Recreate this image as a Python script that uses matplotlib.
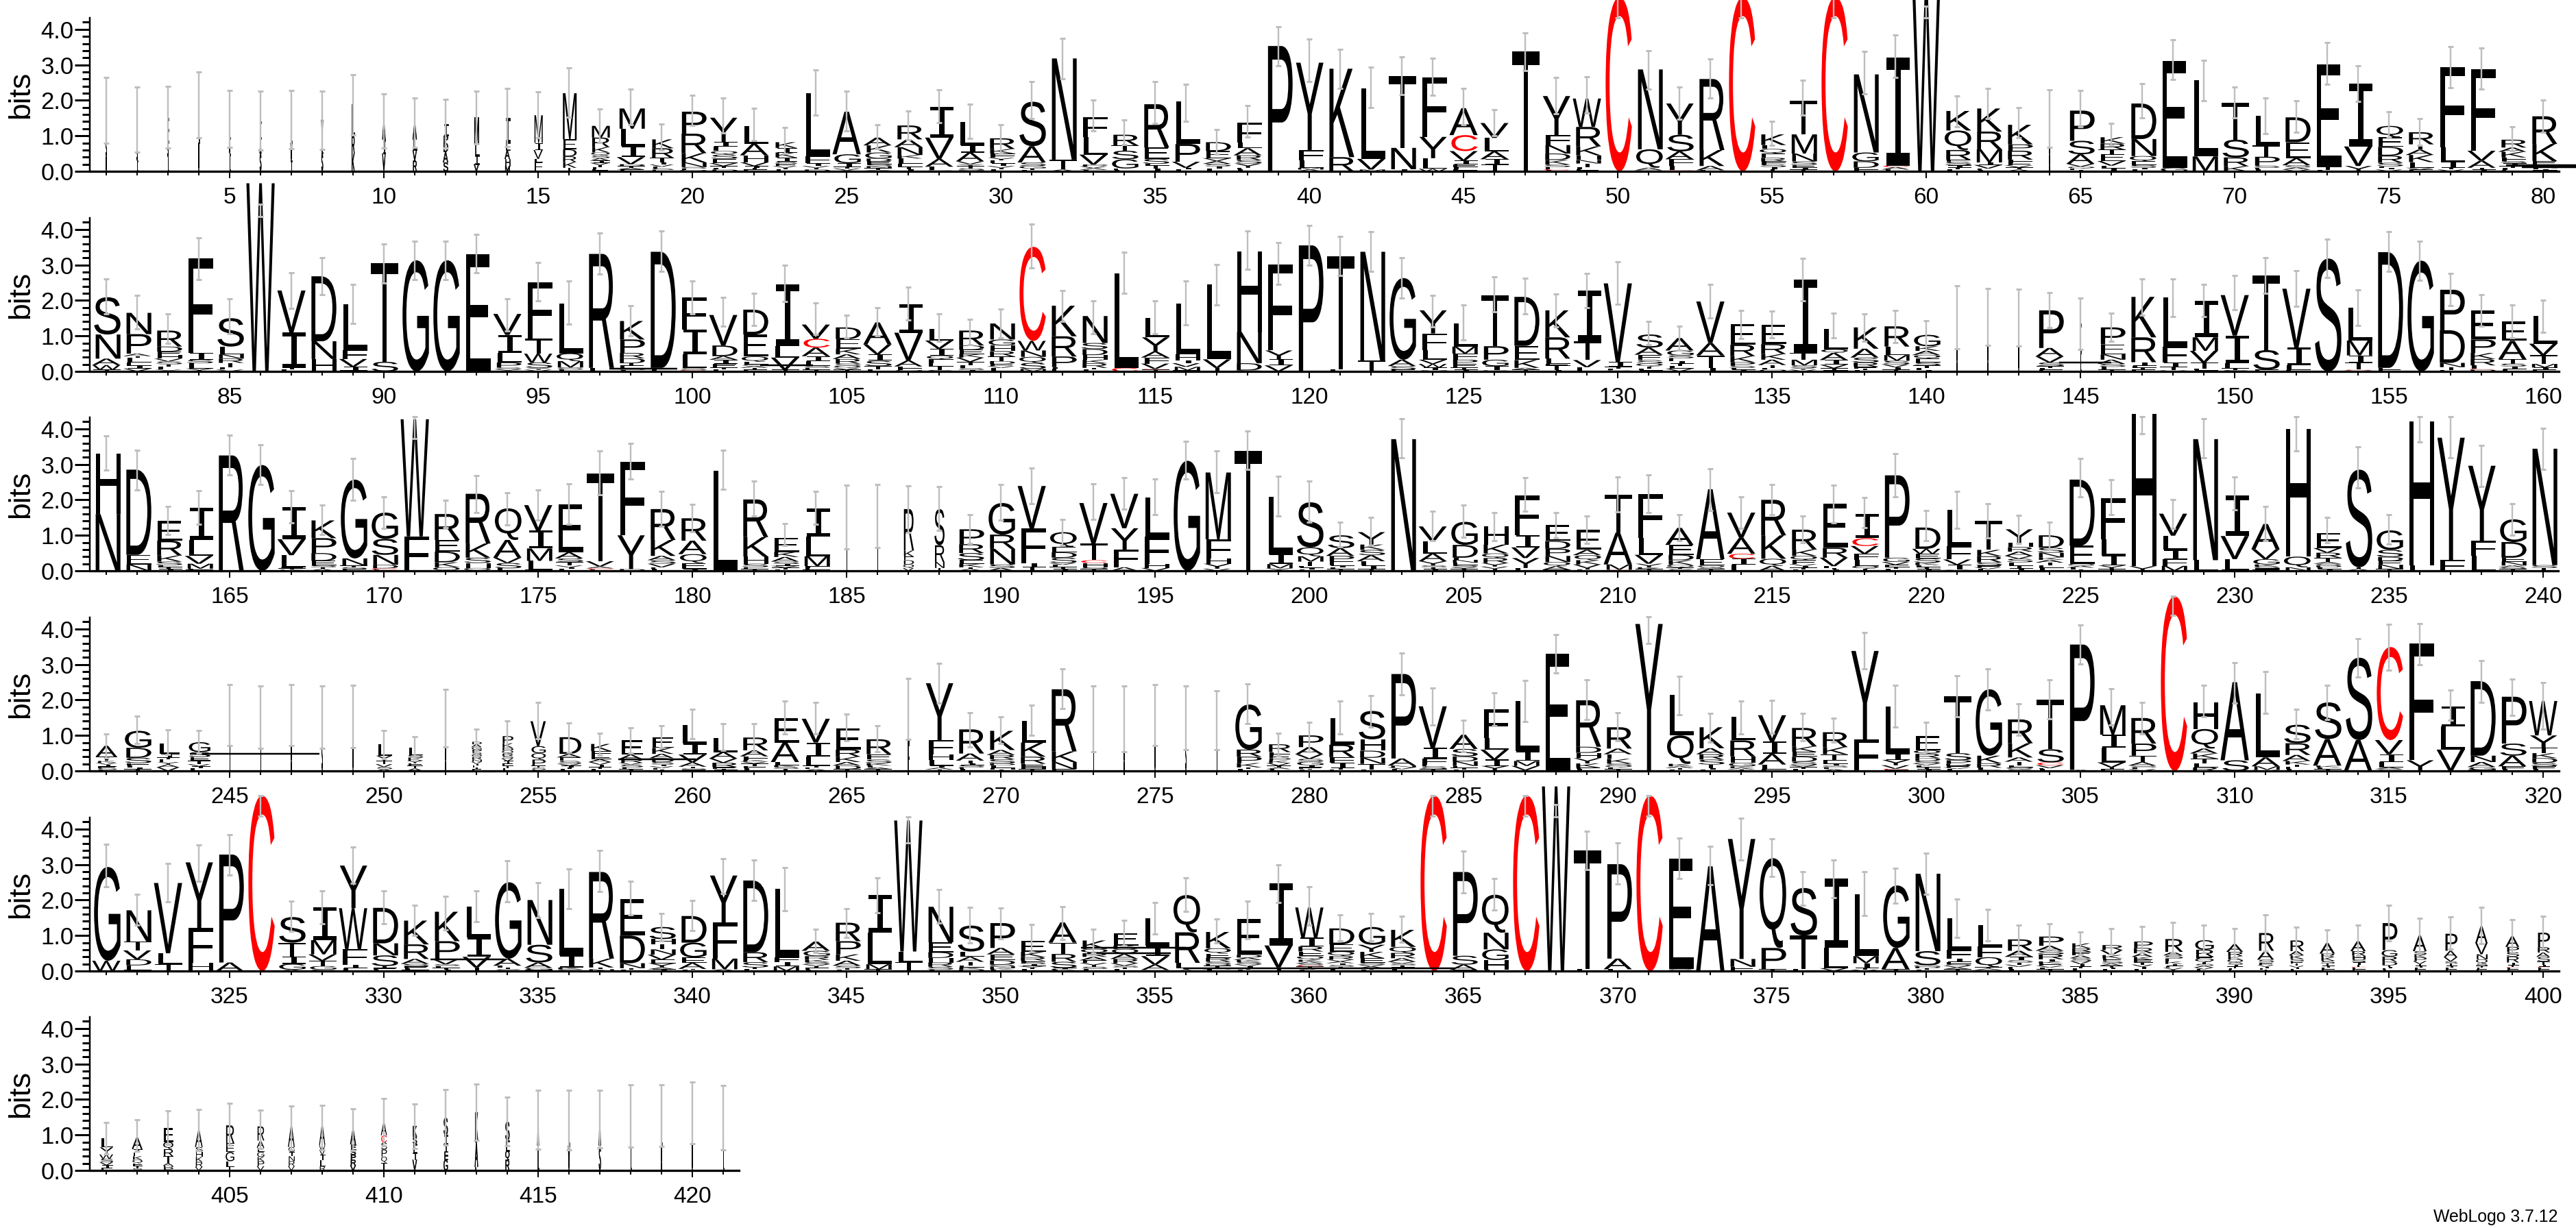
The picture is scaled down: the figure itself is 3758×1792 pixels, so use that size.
import matplotlib
matplotlib.use("Agg")
import matplotlib.pyplot as plt
from matplotlib.font_manager import FontProperties
from matplotlib.patches import PathPatch
from matplotlib.path import Path
from matplotlib.textpath import TextPath
from matplotlib.ticker import MultipleLocator

plt.rcParams['font.family'] = ['Liberation Sans', 'DejaVu Sans']

# letter stacks, bottom to top, letter + height in bits
row1_stacks = ["V.4 S.5 A.85", "I.3 S.4 A.77", "L.4 S.4 E.7", "V.8 L1.0 C.05", "I.5 V.4 L.6", "S.5 A.4 I.5", "T.3 V.5 L.65", "S.5 L.4 V.55", "K.5 R.5 L.9", "V.5 I.4 A.5",
    "R.3 V.3 L.3 A.45", "S.25 A.3 D.25 P.2 I.33", "V.2 I.25 L.3 M.77", "M.15 H.2 A.25 L.2 I.7", "E.25 L.1 V.25 I.2 M.78", "T.1 K.16 R.16 D.2 E.28 M1.3", "E.06 L.06 T.06 V.06 I.06 A.07 S.08 Q.08 K.15 R.27 M.33", "E.05 A.05 T.05 D.05 V.2 I.32 L.48 M.57", "E.04 S.04 L.05 V.06 I.07 T.12 R.27 K.25", "Q.04 E.04 S.04 N.13 K.26 R.55 P.62",
    "D.05 L.05 T.05 V.08 E.12 S.12 Q.1 L.12 I.14 Y.68", "E.05 T.05 I.05 V.1 H.2 A.33 L.5", "L.05 T.05 V.05 E.06 S.06 I.12 K.14 I.13 K.16", "D.05 T.05 V.05 I.08 F.2 L1.78", "A.03 V.05 T.05 I.1 G.25 A1.2", "Y.04 T.05 N.05 S.06 E.08 D.08 G.17 K.2 A.22", "I.06 T.06 E.1 L.14 K.1 N.22 A.22 R.39", "S.03 L.1 A.22 V.6 I.87", "M.03 S.05 T.07 Y.05 V.08 A.25 I.2 L.66", "L.05 T.05 V.05 I.08 E.08 Y.07 F.12 K.13 R.3",
    "L.04 T.04 G.07 S.1 A.46 S1.25", "A.05 T.28 N2.85", "L.04 A.05 V.05 P.05 V.28 L.5 F.55", "L.04 E.04 G.26 S.24 T.15 R.3", "I.08 T.08 L.05 S.14 E.32 R1.22", "L.05 I.05 V.17 P.5 L1.2", "L.07 I.07 S.07 A.08 V.08 E.2 D.25", "L.05 E.05 Y.12 S.1 R.13 A.2 L.17 F.55", "P3.53", "A.05 M.05 L.2 F.3 Y2.46",
    "R.4 K2.49", "M.05 V.3 L1.99", "I.06 N.6 T2.02", "W.07 L.3 Y.6 F1.68", "F.06 L.06 E.08 I.1 V.27 C.45 A.76", "T.2 I.14 A.22 L.38 V.42", "T3.37", "L.03 C.03 E.06 S.07 K.13 D.18 N.24 F.28 Y1.1", "E.06 L.06 T.1 N.1 H.13 K.25 R.55 W.8", "C4.9",
    "S.03 A.07 Q.52 N2.25", "C.03 L.13 F.18 A.22 S.47 Y.88", "L.03 A.12 K.45 R2.0", "C4.9", "T.06 I.06 S.08 F.08 R.1 E.12 Q.13 L.11 K.3", "T.05 I.05 E.08 S.1 N.22 M.54 T.95", "C4.9", "F.1 D.18 G.25 N2.2", "L.05 A.07 C.04 I3.05", "W5.3",
    "L.05 T.05 I.07 S.1 E.05 R.28 Q.55 K.55", "L.04 E.04 V.1 I.07 M.37 R.5 K.65", "A.05 T.06 V.06 E.06 F.1 R.25 P.18 K.55", "A.5 K.5 R.48", "T.04 E.04 Q.05 V.08 A.27 S.38 P.85", "I.08 L.08 V.13 E.2 T.12 R.17 K.18", "L.05 I.05 S.08 E.1 Q.15 N.48 D1.0", "G.1 E3.0", "M.42 L2.15", "K.14 R.25 S.5 T1.04",
    "L.05 E.05 S.06 P.25 T.32 L.84", "V.05 A.06 S.06 A.2 E.45 D.7", "L.04 T.08 E2.9", "Y.15 V.55 I1.77", "V.05 I.05 L.04 S.1 R.2 D.25 E.27 Q.32", "E.05 V.05 L.16 K.2 A.15 T.15 R.34", "V.05 T.05 I.16 L.42 F2.25", "I.05 T.05 A.2 V.28 F2.3", "E.04 L.05 T.06 I.08 S.06 F.1 K.16 A.12 R.22", "F.03 I.03 L.03 N.1 E.1 K.48 R.78"]
row1_hi = [2.65, 2.38, 2.40, 2.79, 2.27, 2.25, 2.27, 2.25, 2.73, 2.19,
    2.06, 2.02, 2.25, 2.33, 2.23, 2.92, 1.75, 2.31, 1.34, 2.15,
    2.06, 1.77, 1.23, 2.85, 2.25, 1.32, 1.69, 2.29, 1.90, 1.32,
    2.52, 3.75, 2.0, 1.44, 2.52, 2.46, 1.17, 1.86, 4.08, 3.73,
    3.44, 2.94, 3.23, 3.19, 2.34, 1.73, 3.90, 2.65, 2.67, 4.9,
    3.40, 2.38, 3.17, 4.9, 1.40, 2.56, 4.9, 3.37, 3.85, 4.66,
    2.13, 2.34, 1.80, 2.29, 2.27, 1.36, 2.48, 3.71, 3.13, 2.38,
    2.07, 1.98, 3.62, 2.98, 1.67, 1.48, 3.52, 3.48, 1.25, 2.0]
row1_lo = [.80, .55, .65, .94, .67, .59, .63, .61, 1.03, .65,
    .67, .65, .78, .69, .94, 1.52, .82, 1.32, .59, 1.30,
    1.08, .86, .51, 1.59, 1.13, .63, .89, 1.38, .92, .51,
    1.48, 2.61, 1.13, .76, 1.36, 1.40, .49, .96, 2.98, 2.52,
    2.34, 1.79, 2.17, 2.15, 1.32, 1.0, 2.83, 1.62, 1.64, 4.33,
    2.31, 1.46, 2.06, 4.33, .73, 1.59, 4.33, 2.19, 2.65, 4.33,
    1.25, 1.48, .94, .67, 1.25, .73, 1.50, 2.58, 1.98, 1.50,
    1.07, 1.11, 2.46, 1.96, .94, .73, 2.36, 2.31, .57, 1.11]

row2_stacks = ["T.05 W.13 A.18 N.68 S1.05", "V.08 I.08 E.1 L.12 T.05 A.07 P.55 N.6", "Y.05 L.08 T.07 S.08 V.08 H.1 E.1 D.14 R.45", "Y.08 L.15 S.1 I.2 F2.65", "V.05 L.07 T.12 R.12 N.12 L.22 S.8", "W5.3", "L.05 T.05 I1.0 V1.18", "H.35 N.5 D1.83", "T.03 I.1 V.22 F.25 L1.3", "S.27 T2.78",
    "G3.13", "G3.13", "E3.31", "Y.06 S.05 P.14 L.28 I.5 V.59", "V.05 Y.05 S.15 W.25 T.42 F1.59", "L.05 S.06 M.18 Q.22 L1.4", "L.1 R3.21", "L.04 S.05 E.08 T.06 D.14 R.15 P.38 K.52", "L.1 D3.27", "C.04 S.05 L.4 I.68 F.92",
    "L.05 T.06 E.1 I.12 A.1 D.3 V.86", "E.05 T.05 A.05 S.05 L.07 Q.15 E.62 D.7", "T.05 V.34 L.32 I1.75", "T.05 E.05 S.05 L.14 I.14 A.24 C.25 V.4", "T.05 V.05 Q.06 S.06 R.13 A.13 K.16 E.27 D.33", "L.05 T.1 S.15 I.18 V.28 A.62", "Q.04 F.1 A.17 V.78 I.8", "S.04 T.1 E.1 F.1 Q.1 I.2 V.23 L.32", "I.04 S.05 L.08 T.1 V.12 K.1 E.12 D.12 R.42", "L.1 V.05 E.06 D.08 T.13 R.15 H.16 G.17 N.45",
    "M.07 S.17 Q.17 N.18 W.27 C2.65", "E.08 L.04 P.3 R.57 K.86", "L.05 T.05 R.13 K.1 H.13 D.17 S.17 N.76", "C.1 L2.67", "T.05 C.02 V.15 F.17 A.17 Y.4 L.55", "T.03 M.1 V.1 I.08 H.17 L1.43", "T.1 V.24 L2.12", "Y.03 D.2 N.88 H2.27", "V.17 I.17 Y.25 F2.43", "P3.55",
    "L.05 T3.2", "T.3 N3.07", "E.05 S.1 A.18 G2.3", "M.03 I.08 W.1 V.12 L.26 F.48 Y.65", "I.05 T.06 E.1 P.12 F.17 M.2 L.66", "D.03 I.12 G.18 P.38 T1.44", "T.05 A.05 K.22 E.4 D1.38", "I.04 T.12 E.05 L.15 R.6 K.76", "L.12 V.2 T.53 I1.43", "S.03 L.05 T.05 I.14 V2.21",
    "I.03 L.05 T.06 Q.08 S.1 E.15 A.2 S.37", "V.08 L.07 T.07 I.07 E.08 S.08 G.14 A.35", "I.1 T.35 A.35 V1.17", "I.05 L.05 S.06 P.1 K.17 R.32 E.58", "Q.05 L.05 T.08 A.15 K.16 R.28 E.55", "V.05 Y.05 S.07 M.16 T.2 I2.06", "F.03 T.06 V.1 I.13 A.2 Q.1 L.57", "L.03 T.05 E.05 R.12 S.14 A.25 K.6", "T.05 I.07 V.08 S.1 M.16 L.24 R.57", "I.04 L.05 T.08 S.09 E.1 Q.1 A.12 K.13 G.32",
    "A.8 L.73", "A.8 S.73", "V.8 I.72", "E.05 L.05 T.05 S.1 V.17 A.24 P1.06", "L.5 I.86", "T.05 L.08 S.08 A.12 N.15 E.28 P.48", "E.05 T.05 L.06 I.1 R.7 K1.14", "V.03 T.1 I.12 F.45 L1.38", "I.03 L.05 T.17 V.33 M.38 I1.03", "S.04 T.05 L.14 I.78 V1.14",
    "E.05 S.55 T2.1", "F.04 L.13 I.5 V1.66", "S3.18", "V.03 C.02 T.2 I.2 M.42 L.93", "E.1 D3.26", "G3.12", "E.04 T.08 N.12 D.92 P1.14", "D.05 C.02 L.1 R.18 K.17 P.38 E.82", "L.06 I.08 S.08 T.12 A.52 E.54", "E.05 I.06 M.1 T.25 V.32 L.78"]
row2_hi = [2.61, 2.14, 1.63, 3.76, 2.04, 4.71, 2.78, 3.21, 2.46, 3.6,
    3.67, 3.67, 3.86, 2.05, 3.06, 2.54, 3.89, 1.85, 3.95, 2.55,
    2.09, 2.2, 2.99, 1.94, 1.59, 1.8, 2.37, 1.63, 1.46, 1.75,
    4.15, 2.28, 1.98, 3.35, 1.98, 2.55, 3.02, 3.95, 3.62, 4.11,
    3.81, 3.94, 3.21, 2.15, 1.87, 2.67, 2.62, 2.19, 2.77, 3.09,
    1.41, 1.28, 2.45, 1.72, 1.7, 3.19, 1.65, 1.63, 1.71, 1.43,
    2.41, 2.33, 2.32, 2.22, 2.07, 1.65, 2.61, 2.61, 2.46, 2.7,
    3.21, 2.83, 3.73, 2.3, 3.94, 3.67, 2.77, 2.16, 1.88, 2.0]
row2_lo = [1.62, 1.19, .79, 2.59, 1.06, 4.36, 1.78, 2.17, 1.36, 2.49,
    2.59, 2.59, 2.78, 1.14, 1.99, 1.33, 2.75, 1.01, 2.81, 1.62,
    1.27, 1.3, 1.96, 1.05, .95, 1.01, 1.44, .85, .75, .95,
    2.91, 1.41, 1.07, 2.2, 1.07, 1.31, 1.88, 2.88, 2.46, 3.0,
    2.7, 2.81, 2.07, 1.25, .88, 1.67, 1.62, 1.25, 1.8, 1.9,
    .75, .6, 1.5, .93, .95, 1.99, .95, .85, .82, .53,
    .64, .73, .71, 1.24, .62, .85, 1.59, 1.54, 1.54, 1.74,
    2.2, 1.83, 2.65, 1.3, 2.81, 2.57, 1.85, 1.27, .95, 1.11]

row3_stacks = ["N1.6 H1.71", "N.18 E.27 D2.4", "I.05 T.05 L.06 S.1 K.17 R.42 E.55", "T.03 F.03 M.14 V.22 L.45 I.91", "R3.25", "G2.98", "K.03 T.04 E.03 L.34 V.45 I.91", "A.05 T.05 S.06 E.12 D.22 P.42 K.5", "E.05 S.05 T.05 N.2 G2.22", "L.03 C.04 D.1 N.28 S.45 G.74",
    "F.97 W3.3", "Q.1 K.14 D.3 E.33 R.73", "Q.08 H.14 S.15 K.4 R1.4", "C.02 L.05 S.15 V.15 A.5 Q.89", "T.03 L.25 M.35 I.5 V.72", "L.05 I.05 V.05 T.1 S.1 A.17 E1.36", "L.04 C.03 A.05 V.15 T2.48", "D.05 Y.95 F2.07", "L.05 E.05 V.1 S.1 A.12 K.45 R.87", "I.05 E.17 Q.25 A.38 R.63",
    "L2.82", "T.05 E.05 S.1 H.2 K.55 R1.06", "L.04 T.05 V.05 I.05 S.07 A.13 K.14 E.4", "T.03 E.05 F.05 M.28 L.55 I.8", "L.7 A.8", "L.7 V.83", "V.08 Q.1 D.12 E.1 K.17 R1.17", "T.08 N.17 R.47 S1.02", "A.05 T.05 K.1 E.1 S.2 R.25 P.42", "A.08 S.1 N.44 R.4 G.89",
    "T.1 I.12 F.97 V1.2", "I.05 T.06 L.06 V.05 S.15 D.15 E.15 Q.42", "T.05 S.05 H.12 C.08 T.47 V1.14", "A.1 F.5 Y.6 V.97", "V.08 H.12 F.76 L1.11", "G3.1", "V.06 Y.14 H.14 F.55 M1.88", "T3.38", "Y.07 M.12 I.28 L1.62", "L.04 I.05 F.05 T.12 M.15 Q.25 S1.27",
    "T.05 L.05 I.05 E.12 P.15 A.22 S.36", "T.05 I.1 L.12 A.17 S.15 K.15 Y.35", "N3.71", "I.05 T.05 S.05 Y.12 A.22 L.34 V.42", "T.05 Y.05 S.06 E.07 N.08 L.06 D.36 G.65", "T.06 V.06 Y.1 R.14 Q.13 K.25 H.51", "L.08 Y.28 V.3 I.35 F1.11", "T.03 A.1 Q.12 N.17 P.2 D.22 E.45", "L.04 T.04 V.1 K.12 Q.14 A.15 E.56", "C.03 M.15 A.9 T1.06",
    "T.05 K.05 Y.1 V.25 L.47 F1.25", "S.05 T.04 Q.08 K.13 D.15 E.28 A.48", "T.05 S.04 Q.06 E.18 A1.97", "L.17 I.17 C.14 A.45 V.71", "A.14 Q.2 K.66 R1.0", "L.04 T.05 I.05 V.05 E.11 Q.12 K.18 R.56", "I.04 T.04 L.05 V.24 R.28 E1.25", "T.06 Q.08 L.17 F.17 V.22 C.22 I.69", "L.05 T.05 E.07 V.08 G.12 P2.32", "I.05 T.05 L.06 K.07 S.12 E.13 W.14 D.6",
    "Y.03 I.14 V.15 F.37 L1.03", "L.05 V.05 E.05 S.09 R.17 K.18 T.82", "I.07 T.07 L.1 S.1 V.08 A.12 R.13 H.12 Y.38", "L.08 E.08 T.07 A.08 K.07 N.13 S.14 D.35", "T.04 L.05 A.05 Q.05 E.52 D1.86", "T.05 Y.1 I.28 L.45 F1.16", "Y.13 H4.3", "M.14 F.18 I.27 L.4 V.62", "L.3 N3.41", "T.03 L.3 V.65 I1.14",
    "T.03 F.04 S.05 K.06 G.15 V.28 A.71", "N.1 Q.3 H3.6", "I.05 L.05 D.05 S.05 A.05 T.12 R.14 V.13 E.42", "A.05 T.05 S2.75", "T.05 N.12 E.11 D.11 S.2 G.55", "L.15 H4.06", "F.3 Y3.45", "L.42 F.42 Y2.12", "T.05 S.05 A.05 N.11 E.11 D.44 G.64", "T.08 S.08 N3.28"]
row3_hi = [3.81, 3.4, 1.82, 2.25, 3.83, 3.55, 2.25, 1.85, 3.17, 2.09,
    4.34, 1.98, 2.69, 2.21, 2.27, 2.46, 3.37, 3.6, 2.24, 1.87,
    3.39, 2.52, 1.33, 2.24, 2.41, 2.43, 2.39, 2.38, 1.58, 2.43,
    2.9, 1.45, 2.45, 2.63, 2.59, 3.65, 3.37, 3.93, 2.67, 2.52,
    1.38, 1.5, 4.28, 1.67, 1.85, 1.65, 2.63, 1.65, 1.54, 2.65,
    2.71, 1.59, 2.88, 2.09, 2.43, 1.54, 2.41, 2.07, 3.31, 1.69,
    2.23, 1.9, 1.57, 1.38, 3.17, 2.56, 4.34, 2.01, 4.28, 2.64,
    1.81, 4.34, 1.51, 3.49, 1.58, 4.34, 4.34, 3.53, 1.9, 4.02]
row3_lo = [2.84, 2.27, 1.03, 1.32, 2.7, 2.43, 1.35, 1.03, 1.99, 1.19,
    3.72, 1.21, 1.64, 1.3, 1.42, 1.32, 2.14, 2.59, 1.25, 1.11,
    2.3, 1.54, .71, 1.32, .61, .66, 1.09, 1.13, .77, 1.43,
    1.9, .72, 1.45, 1.74, 1.58, 2.59, 2.2, 2.86, 1.54, 1.38,
    .68, .71, 3.19, .84, .95, .84, 1.67, .93, .77, 1.66,
    1.64, .84, 1.69, 1.19, 1.58, .8, 1.35, 1.22, 2.09, .84,
    1.2, .93, .77, .6, 2.09, 1.59, 3.86, 1.19, 3.19, 1.71,
    .84, 3.37, .8, 2.33, .75, 3.62, 3.19, 2.37, 1.0, 2.86]

row4_stacks = ["L.03 S.05 E.05 I.05 V.05 K.05 T.12 A.31", "T.05 I.05 L.05 E.07 S.15 D.28 G.48", "V.1 A.08 Y.07 E.08 T.05 I.1 L.3", "L.07 I.06 V.06 T.1 E.1 S.14 G.28", "L.8 A.77", "L.8 E.7", "A.8 L.75", "S.8 V.7", "V.8 L.72", "A.05 S.06 V.08 T.1 Y.14 L.32",
    "A.07 T.08 E.07 Y.07 K.08 S.08 L.2", "A.8 L.75", "E.05 T.05 L.05 I.05 V.06 N.06 R.07 Q.07 S.07 P.07 G.07 A.08 D.07", "L.07 T.07 E.07 I.07 V.07 S.07 R.07 Q.08 D.08 K.13 P.2", "L.03 S.06 T.06 P.17 Q.18 G.2 V.7", "L.05 T.05 I.05 V.05 S.08 E.1 A.1 D.47", "L.06 T.05 I.07 V.07 A.08 E.1 F.13 K.2", "T.05 L.05 S.08 V.05 R.1 A.13 E.4", "T.04 L.04 V.05 I.05 S.07 D.11 A.12 K.17 E.3", "E.03 S.04 T.05 A.12 V.22 I.32 L.52",
    "I.03 T.03 E.05 R.12 V.12 A.18 L.4", "L.07 E.07 T.07 V.05 K.05 F.1 A.17 R.36", "T.06 S.05 K.05 L.09 A.55 E.69", "A.05 E.05 T.05 L.25 I.4 V.67", "T.05 D.1 A.1 K.15 R.2 E.6", "T.05 A.05 L.05 K.07 S.1 E.15 R.42", "F.8 L.98", "T.04 A.05 I.06 L.15 H.17 F.4 Y1.6", "L.05 E.05 S.06 I.06 T.07 A.2 R.68", "T.04 H.04 L.08 D.05 S.12 R.12 A.14 K.54",
    "T.05 H.07 E.08 R.2 K.4 L.6", "E.05 N.2 K.3 R1.75", "L.8 V.7", "A.8 L.7", "V.8 L.75", "S.8 A.7", "E.8 A.63", "L.05 T.05 K.12 P.18 R.2 G1.27", "L.05 A.05 T.05 V.07 K.07 P.07 E.07 F.1 R.22", "L.03 T.03 E.05 I.05 G.1 S.08 V.13 A.2 P.33",
    "E.04 T.04 I.15 F.16 R.35 L.75", "L.03 T.17 N.17 D.2 H.32 S.8", "L.05 V.05 N.05 A.2 P2.38", "T.05 S.08 E.05 F.17 I.3 V1.17", "L.04 T.05 E.05 N.13 D.14 S.21 A.4", "T.02 Y.12 I.18 V.28 L.33 F.8", "A.02 V.12 M.14 I.28 L1.41", "E3.31", "L.05 E.04 K.12 Y.15 H.15 D.17 R1.31", "T.05 L.05 Q.05 S.06 K.13 E.13 A.16 R.6",
    "Y4.14", "L.03 T.05 A.05 K.07 Q.8 L1.14", "L.04 I.04 T.1 S.14 R.15 A.17 K.59", "T.04 A.04 K.05 G.1 H.18 R.45 L.66", "F.05 L.13 A.3 I.35 V.74", "L.06 T.05 V.05 S.1 D.14 E.14 K.15 R.52", "A.05 L.05 S.05 I.05 E.1 T.17 K.2 R.42", "F.88 Y2.5", "E.03 C.03 V.1 Y.15 I.18 L1.33", "I.05 T.05 L.06 V.05 S.07 D.08 R.12 Q.1 E.4",
    "L.06 V.04 E.05 D.05 P.1 S.2 T1.6", "S.04 L.05 R.12 K.22 G1.87", "S.05 Q.05 L.06 T.1 A.12 K.4 R.67", "L.05 E.03 V.08 C.08 S.37 T1.39", "A.03 P3.53", "E.05 T.05 V.14 L.42 I.36 M.83", "V.05 L.05 S.05 A.1 T.18 P.34 R.72", "C4.92", "R.1 L.12 T.13 K.14 A.14 Q.55 H.76", "S.3 A2.2",
    "V.03 M.1 A.25 L1.8", "L.06 E.06 T.06 K.1 A.17 R.33 S.52", "T.05 L.05 K.05 A.75 S1.03", "A.87 S2.32", "S.05 A.05 L.15 I.22 V.4 C2.62", "Y.3 F3.29", "V.6 L.65 I.57", "T.03 G.08 A.14 N.18 D2.1", "L.05 E.08 A.3 S.34 P1.32", "L.05 E.08 S.1 D.13 K.14 T.15 Y.35 W.97"]
row4_hi = [1.04, 1.54, 1.16, 1.13, 2.43, 2.39, 2.43, 2.39, 2.42, 1.13,
    .97, 2.3, 1.18, 1.4, 1.94, 1.36, 1.07, 1.22, 1.28, 1.73,
    1.33, 1.33, 1.96, 1.94, 1.61, 1.28, 2.61, 3.04, 1.65, 1.52,
    1.86, 2.88, 2.39, 2.39, 2.43, 2.39, 2.26, 2.45, 1.07, 1.37,
    1.96, 2.13, 3.33, 2.34, 1.42, 2.2, 2.54, 3.85, 2.57, 1.65,
    4.35, 2.67, 1.62, 1.97, 1.98, 1.62, 1.48, 3.89, 2.41, 1.38,
    2.68, 2.88, 1.89, 2.57, 4.11, 2.31, 1.94, 4.92, 2.41, 3.05,
    2.79, 1.73, 2.42, 3.73, 4.13, 4.15, 2.28, 3.11, 2.58, 2.5]
row4_lo = [.37, .78, .46, .5, .71, .63, .71, .63, .66, .35,
    .33, .68, .42, .59, .91, .52, .44, .5, .65, .9,
    .57, .55, 1.04, 1.04, .84, .55, .88, 1.92, .68, .78,
    1.0, 1.76, .55, .55, .71, .59, .59, 1.33, .42, .55,
    1.04, 1.23, 2.15, 1.29, .55, 1.27, 1.39, 2.77, 1.45, .84,
    3.6, 1.58, .81, 1.04, 1.07, .84, .81, 2.87, 1.23, .55,
    1.53, 1.71, 1.0, 1.47, 3.01, 1.29, 1.04, 4.39, 1.52, 1.91,
    1.62, .9, 1.45, 2.65, 2.84, 3.0, 1.43, 1.94, 1.57, 1.17]

row5_stacks = ["W.29 G2.64", "T.03 E.13 D.17 V.25 T.25 N.88", "T.2 L.3 V1.98", "H.24 F.97 Y1.85", "A.24 P3.04", "C4.94", "A.04 G.16 I.2 T.4 S.72", "S.04 G.1 T.15 V.18 M.4 I.93", "L.08 I.1 F.44 W1.15 Y1.2", "L.04 E.05 T.05 S.3 N.34 D1.0",
    "T.03 L.05 E.05 S.07 A.14 R.41 K.67", "I.04 T.05 L.05 S.05 V.15 P.5 K.83", "T.1 V.3 I.55 L.86", "S.05 T.05 L.05 A.2 G2.15", "T.03 G.06 A.15 S.5 N1.26", "S.05 K.05 I.35 L1.86", "N.05 T.05 K.25 R2.44", "L.04 T.04 N.14 D.78 E1.02", "I.05 A.05 Y.12 E.1 V.14 N.15 T.15 H.14 S.34", "L.03 T.03 A.17 E.15 G.42 D.75",
    "A.05 M.3 F1.02 Y1.32", "L.05 T.05 S.15 R.28 D2.02", "M.13 I.13 F.13 L1.93", "L.03 E.06 T.05 V.05 S.06 K.07 R.1 G.15 A.26", "L.03 T.05 S.07 A.14 K.18 P.37 R.52", "T.05 M.14 L.9 I1.05", "T.25 L.3 W3.69", "L.04 S.08 R.12 H.13 D.16 E.28 N1.0", "D.05 K.05 E.06 T.1 A.14 L.15 S.73", "L.04 K.04 N.05 S.05 D.12 E.17 A.18 P.7",
    "L.05 T.05 V.04 I.05 S.05 F.05 R.1 K.15 E.3", "L.03 K.03 I.03 S.17 R.22 T.32 A.57", "L.06 S.06 T.05 V.06 E.07 A.1 R.1 Q.12 K.24", "L.05 T.05 S.05 V.07 R.12 A.14 Q.14 K.1 E.35", "G.03 A.15 V.24 I.3 L.77", "A.03 T.05 L.15 R.86 Q1.05", "L.05 A.05 T.05 D.05 S.07 R.1 E.12 Q.15 K.46", "L.04 T.05 I.05 V.05 S.06 K.06 A.07 D.08 E1.0", "T.1 V.62 I1.76", "L.04 V.04 T.05 C.03 S.05 A.05 K.06 Q.1 E.13 R.14 I.25 W.85",
    "L.06 T.06 S.05 I.05 A.05 V.05 R.1 Q.13 E.2 D.45", "L.03 T.05 A.05 V.05 S.05 E.13 K.18 Y.2 G.5", "L.06 E.05 T.05 S.05 V.05 A.1 R.15 Q.17 K.48", "C4.94", "E.03 A.15 S.25 P2.36", "L.03 H.28 G.3 N.47 Q1.07", "C4.94", "W5.2", "L.05 T3.35", "L.05 A.3 P2.66",
    "C4.94", "S.05 E3.11", "A2.95", "E.12 N.22 Y3.38", "T.05 P.6 Q2.53", "L.05 T.95 S1.34", "V.08 L.57 I1.95", "V.04 T.04 I.14 M.2 L1.74", "T.05 A.6 G1.76", "L.04 T.04 D.04 G.04 S.4 N2.18",
    "T.05 A.05 V.05 S.05 E.05 I.1 F.24 L.9", "S.03 A.04 T.04 Q.28 F.3 L.6", "L.06 E.06 V.06 T.06 S.06 I.1 A.17 R.32", "T.05 L.05 V.05 E.06 K.06 I.06 R.14 S.1 A.14 P.26", "L.07 T.06 I.07 V.08 S.08 A.08 E.1 R.1 K.14", "L.05 I.05 T.05 A.06 S.07 E.07 K.1 V.14 R.14", "L.06 I.06 V.06 T.06 E.08 K.08 A.1 R.15 P.18", "T.04 V.05 L.05 I.06 K.07 E.08 S.09 A.1 R.36", "L.05 V.05 A.05 S.05 T.05 Q.1 E.05 R.2 G.27", "E.04 L.04 T.05 I.05 S.06 Q.08 K.1 R.12 A.22",
    "T.04 L.04 I.04 V.05 E.07 S.08 A.25 R.5", "L.05 I.05 V.05 T.06 E.06 S.07 K.1 A.12 R.3", "E.05 L.05 I.05 T.06 S.08 K.1 R.1 A.3", "E.05 L.05 C.02 T.05 I.08 S.08 H.1 R.13 A.28", "L.04 E.04 I.04 T.04 D.1 R.15 G.18 P.76", "E.05 L.05 I.05 T.05 V.08 P.1 K.08 S.1 A.44", "E.05 L.05 I.05 T.06 S.06 V.12 A.18 P.48", "E.05 L.05 T.05 S.06 Q.12 N.14 V.32 A.47", "E.05 L.04 C.02 T.05 I.08 R.17 S.12 P.15 A.3", "E.05 L.05 C.02 I.05 T.1 S.13 A.12 R.15 P.41"]
row5_hi = [3.57, 2.16, 3.03, 3.56, 3.85, 4.94, 1.96, 2.26, 3.49, 2.25,
    1.86, 2.11, 2.26, 3.11, 2.5, 2.87, 3.4, 2.53, 1.63, 1.99,
    3.16, 3.13, 2.92, 1.18, 1.76, 2.63, 4.35, 2.3, 1.79, 1.78,
    1.31, 1.81, 1.18, 1.43, 1.94, 2.63, 1.47, 1.97, 3.0, 2.37,
    1.58, 1.62, 1.54, 4.94, 3.38, 2.61, 4.94, 4.7, 3.94, 3.61,
    4.94, 3.75, 3.51, 4.3, 3.72, 2.8, 3.13, 2.8, 2.89, 3.32,
    2.02, 1.73, 1.29, 1.34, 1.11, 1.2, 1.25, 1.37, 1.29, 1.2,
    1.58, 1.24, 1.16, 1.29, 1.86, 1.49, 1.53, 1.79, 1.45, 1.55]
row5_lo = [2.37, 1.29, 1.95, 2.53, 2.71, 4.36, 1.12, 1.33, 2.48, 1.33,
    1.0, 1.16, 1.39, 1.95, 1.5, 1.76, 2.23, 1.58, .84, 1.13,
    2.19, 1.98, 1.69, .52, .94, 1.65, 3.61, 1.35, .79, .91,
    .55, .89, .51, .71, 1.04, 1.67, .79, .91, 1.94, 1.29,
    .84, .84, .81, 4.36, 2.21, 1.71, 4.36, 4.35, 2.85, 2.46,
    4.36, 2.61, 2.43, 3.13, 2.66, 1.86, 2.07, 1.57, 1.92, 2.16,
    .94, .84, .49, .62, .46, .49, .52, .52, .52, .38,
    .56, .49, .42, .42, .84, .52, .62, .78, .53, .64]

row6_stacks = ["E.07 I.08 V.08 S.1 W.12 Y.2 L.25", "S.06 T.06 E.08 Q.1 K.1 L.1 I.1 A.33", "P.08 D.06 A.06 T.2 R.2 Q.2 E.39", "V.1 R.14 K.14 H.14 S.14 A.48", "T.1 L.16 G.26 E.12 F.13 R.5", "V.12 P.14 K.12 G.14 E.12 A.2 R.4", "V.12 R.14 N.14 I.12 G.14 A.62", "R.12 L.16 I.16 V.14 W.14 A.58", "V.14 R.16 P.14 S.14 E.16 A.4", "T.22 Q.17 P.2 S.2 C.2 A.37",
    "V.3 T.2 E.25 S.2 K.3", "G.3 E.25 T.2 I.25 S.48", "L.1 A.7 P.05 K.78", "R.3 Q.25 E.3 S.52", "L.7 A.75", "V.7 L.75", "S.7 A.75", "L.7 A.78", "A.7 L.81", "V.7 A.88", "L.7 S.78"]
row6_hi = [1.35, 1.43, 1.67, 1.72, 1.9, 1.7, 1.81, 1.83, 1.74, 2.03,
    1.87, 2.27, 2.43, 2.06, 2.26, 2.26, 2.26, 2.41, 2.41, 2.49, 2.39]
row6_lo = [.46, .55, .73, .56, .71, .61, .58, .58, .56, .69,
    .61, .71, .85, .69, .59, .58, .63, .65, .68, .75, .58]

# stacks narrower than the full column
narrow_pos = [1, 2, 3, 4, 5, 6, 7, 8, 9, 10, 11, 12, 13, 14, 15, 16, 17, 19, 23, 64,
    141, 142, 143, 145, 185, 186, 187, 188,
    241, 243, 244, 245, 246, 247, 248, 249, 250, 251, 252, 253, 254, 255, 256, 257, 258, 259, 267, 273, 274, 275, 276, 277, 279,
    385, 386, 387, 388, 389, 390, 391, 392, 393, 394, 395, 396, 397, 398, 399, 400,
    401, 402, 403, 404, 405, 406, 407, 408, 409, 410, 411, 412, 413, 414, 415, 416, 417, 418, 419, 420, 421]
narrow_w = [.03, .03, .03, .03, .03, .05, .05, .05, .1, .1, .13, .16, .16, .16, .3, .5, .65, .8, .8, .03,
    .02, .02, .02, .03, .02, .02, .37, .35,
    .7, .75, .75, .02, .02, .02, .02, .02, .55, .55, .02, .35, .4, .5, .8, .75, .8, .8, .04, .02, .02, .02, .02, .02, .8,
    .7, .75, .7, .65, .65, .55, .55, .5, .5, .5, .55, .45, .45, .4, .45, .45,
    .45, .35, .35, .25, .3, .25, .22, .2, .18, .2, .14, .14, .1, .14, .05, .05, .06, .03, .03, .03, .03]

# flat smeared letters that run across several columns: start, end, bits
smear_start = [78.8, 78.8, 79.3, 97.3, 102.2, 144.3, 243.7, 257.6, 331.5, 352.6, 352.8, 355.9]
smear_end = [81.07, 81.07, 81.07, 99.5, 103.9, 146.0, 247.9, 260.1, 333.9, 356.0, 355.5, 364.7]
smear_bits = [.18, .15, .12, .07, .18, .26, .48, .33, .32, .65, .5, .07]

row_first = [1, 81, 161, 241, 321, 401]
row_last = [80, 160, 240, 320, 400, 421]
row_baseline = [250, 542, 833, 1125, 1417, 1708]
all_stacks = [row1_stacks, row2_stacks, row3_stacks, row4_stacks, row5_stacks, row6_stacks]
all_hi = [row1_hi, row2_hi, row3_hi, row4_hi, row5_hi, row6_hi]
all_lo = [row1_lo, row2_lo, row3_lo, row4_lo, row5_lo, row6_lo]

W, H = 3758, 1792
PX = 0.72  # points per pixel at dpi 100
COL = 45.0
BIT = 51.8
YMAX = 4.32
LEFT = 131

sans = FontProperties(family='Liberation Sans')
mono = FontProperties(family='Liberation Mono')
glyphs = {}


def glyph(letter):
    # letter outline scaled into a unit box, I is the serif one
    if letter not in glyphs:
        tp = TextPath((0, 0), letter, size=1, prop=mono if letter == 'I' else sans)
        v = tp.vertices.copy()
        v[:, 0] = (v[:, 0] - v[:, 0].min()) / (v[:, 0].max() - v[:, 0].min())
        v[:, 1] = (v[:, 1] - v[:, 1].min()) / (v[:, 1].max() - v[:, 1].min())
        glyphs[letter] = (v, tp.codes.copy())
    return glyphs[letter]


def draw_stack(ax, pos, stack, width):
    # very narrow stacks only show up with an outline
    edge = 0.7 * PX if width < 0.2 else 0
    bottom = 0.0
    for item in stack.split():
        letter, height = item[0], float(item[1:])
        v, codes = glyph(letter)
        v = v.copy()
        v[:, 0] = pos - width / 2 + v[:, 0] * width
        v[:, 1] = bottom + v[:, 1] * height
        color = '#ff0000' if letter == 'C' else 'black'
        ax.add_patch(PathPatch(Path(v, codes), facecolor=color, edgecolor=color,
                               lw=edge, clip_on=False, zorder=2))
        bottom += height


fig = plt.figure(figsize=(W / 100, H / 100), dpi=100)
narrow = dict(zip(narrow_pos, narrow_w))

for r in range(6):
    first, last = row_first[r], row_last[r]
    base = row_baseline[r]
    x0 = first - (155 - LEFT) / COL
    x1 = last + 0.5
    ax = fig.add_axes([LEFT / W, 1 - base / H, (x1 - x0) * COL / W, YMAX * BIT / H])
    ax.set_xlim(x0, x1)
    ax.set_ylim(0, YMAX)
    ax.patch.set_visible(False)

    positions = list(range(first, last + 1))
    for p, s in zip(positions, all_stacks[r]):
        draw_stack(ax, p, s, narrow.get(p, 0.92))

    for a, b, y in zip(smear_start, smear_end, smear_bits):
        if first <= a <= last:
            ax.hlines(y, a, b, color='black', lw=2.5 * PX, clip_on=False, zorder=2)

    ax.vlines(positions, all_lo[r], all_hi[r], color='#bebebe', lw=2.4 * PX, clip_on=False, zorder=3)
    for ends in (all_lo[r], all_hi[r]):
        ax.hlines(ends, [p - 0.09 for p in positions], [p + 0.09 for p in positions],
                  color='#bebebe', lw=3 * PX, clip_on=False, zorder=3)

    for side in ('top', 'right'):
        ax.spines[side].set_visible(False)
    ax.spines['left'].set_linewidth(2.5 * PX)
    ax.spines['bottom'].set_linewidth(3.3 * PX)
    ax.spines['bottom'].set_zorder(4)

    ax.yaxis.set_major_locator(MultipleLocator(1))
    ax.yaxis.set_minor_locator(MultipleLocator(0.2))
    ax.set_yticks([0, 1, 2, 3, 4])
    ax.set_yticklabels(['0.0', '1.0', '2.0', '3.0', '4.0'])
    ax.tick_params(axis='y', which='major', length=22 * PX, width=3 * PX, labelsize=25, pad=1)
    ax.tick_params(axis='y', which='minor', length=11 * PX, width=3 * PX)

    ax.set_xticks([p for p in positions if p % 5 == 0])
    ax.set_xticks(positions, minor=True)
    ax.tick_params(axis='x', which='major', length=10 * PX, width=2 * PX, labelsize=24, pad=9.5)
    ax.tick_params(axis='x', which='minor', length=5.5 * PX, width=2 * PX)

    ax.set_ylabel('bits', fontsize=32)
    ax.yaxis.set_label_coords((51 - LEFT) / ((x1 - x0) * COL), 0.5)

fig.text(3732 / W, 1 - 1776 / H, 'WebLogo 3.7.12', fontsize=17.9, ha='right', va='center')

fig.savefig('out.png', dpi=100)
